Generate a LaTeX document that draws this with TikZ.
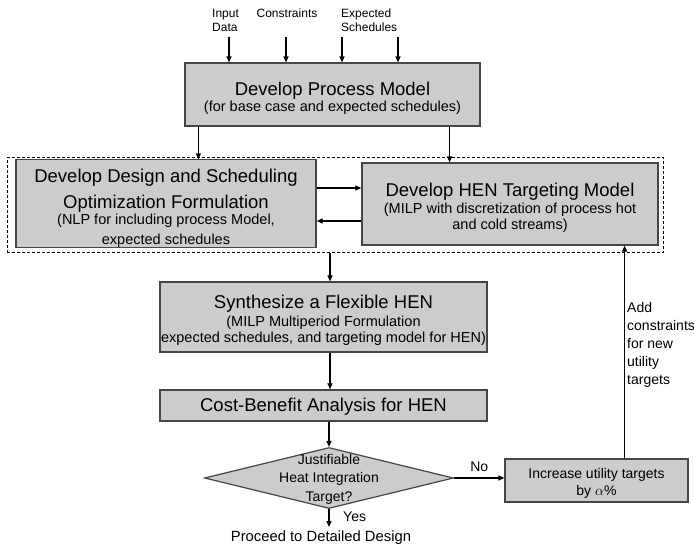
\documentclass[tikz,border=0pt]{standalone}
\usepackage{fontspec}
\setmainfont{Liberation Sans}
\usetikzlibrary{shapes.geometric,arrows.meta,fit}
\definecolor{boxfill}{RGB}{204,204,204}
\definecolor{boxline}{RGB}{70,70,70}
\newcommand\hdfont{\fontsize{18.5}{18.5}\selectfont}
\newcommand\sbfont{\fontsize{14.5}{16}\selectfont}
\newcommand\lbfont{\fontsize{12}{14}\selectfont}
\newcommand\mdfont{\fontsize{14}{17.8}\selectfont}
\newcommand\sdn[1]{\rule{0pt}{#1pt}}
\begin{document}
\begin{tikzpicture}[x=1pt,y=-1pt,
  box/.style={draw=boxline, line width=1.2pt, fill=boxfill, align=center, inner sep=0pt, font=\sbfont},
  arr/.style={draw=black, line width=1.1pt, -{Triangle[length=6pt,width=5pt]}},
  lbl/.style={font=\lbfont, inner sep=0pt},
  txt/.style={font=\mdfont, inner sep=0pt},
]
\useasboundingbox (0,0) rectangle (694,552);

% top inputs
\node[lbl, anchor=north west, align=left] (tin) at (212,9) {Input\\Data};
\node[lbl, anchor=north] (tcon) at (287,9) {Constraints};
\node[lbl, anchor=north west, align=left] (texp) at (341,9) {Expected\\Schedules};
\coordinate (a1) at (229,37);
\coordinate (a2) at (286,37);
\coordinate (a3) at (342,37);
\coordinate (a4) at (398,37);

% process model
\node[box, minimum width=295pt, minimum height=63pt] (pm) at (332.5,94.5)
  {{\hdfont\sdn{21.6}Develop Process Model}\\(for base case and expected schedules)};
\foreach \c in {a1,a2,a3,a4} \draw[arr] (\c) -- (\c |- pm.north);

% two boxes in dashed group
\node[box, minimum width=300pt, minimum height=83pt] (ldb) at (166,203.5)
  {{\hdfont\sdn{23}Develop Design and Scheduling}\\[7pt]{\hdfont Optimization Formulation}\\(NLP for including process Model,\\[4pt]expected schedules};
\node[box, minimum width=296pt, minimum height=82pt] (rdb) at (510,204)
  {{\hdfont\sdn{21.6}Develop HEN Targeting Model}\\[1pt](MILP with discretization of process hot\\and cold streams)};
\coordinate (g1) at ([xshift=-3pt]ldb.south west);
\node[draw, dashed, dash pattern=on 3pt off 2pt, line width=0.8pt, fit=(g1)(rdb.north east), inner xsep=5pt, inner ysep=5pt] (grp) {};

\coordinate (p1) at ([xshift=14pt]pm.south west);
\coordinate (p2) at ([xshift=-31pt]pm.south east);
\draw[arr] (p1) -- (p1 |- ldb.north);
\draw[arr] (p2) -- (p2 |- rdb.north);
\draw[arr] (ldb.east |- 0,188) -- (rdb.west |- 0,188);
\draw[arr] (rdb.west |- 0,221) -- (ldb.east |- 0,221);

% synthesize
\node[box, minimum width=327pt, minimum height=70pt] (syn) at (323.5,317)
  {{\hdfont\sdn{19.6}Synthesize a Flexible HEN}\\[2pt](MILP Multiperiod Formulation\\expected schedules, and targeting model for HEN)};
\node[box, minimum width=327pt, minimum height=31pt] (cba) at (323.5,405.5)
  {{\hdfont\sdn{15.6}Cost-Benefit Analysis for HEN}};
\draw[arr] (grp.south -| 330,0) -- (syn.north -| 330,0);
\draw[arr] (syn.south -| 330,0) -- (cba.north -| 330,0);

% decision
\node[diamond, aspect=4.08, draw=boxline, line width=1.2pt, fill=boxfill, minimum width=249pt, minimum height=61pt, inner sep=0pt] (dia) at (329,478) {};
\node[txt, align=center, font=\fontsize{14}{18.5}\selectfont] (diat) at ([yshift=-1pt]dia.center) {Justifiable\\Heat Integration\\Target?};
\draw[arr] (cba.south -| dia.north) -- (dia.north);

\node[txt, font=\fontsize{14.8}{17}\selectfont] (proc) at (321,538) {Proceed to Detailed Design};
\draw[arr] (dia.south) -- (dia.south |- 0,527);
\node[txt, anchor=west] (yes) at (343,517) {Yes};

% increase
\node[box, font=\mdfont, minimum width=183pt, minimum height=43pt] (inc) at (596.5,480.5)
  {\sdn{15.3}Increase utility targets\\[-1pt]by $\alpha$\%};
\draw[arr] (dia.east) -- node[txt, above=6pt] (no) {No} (dia.east -| inc.west);

\coordinate (q1) at ([xshift=-64pt]inc.north east);
\draw[arr] (q1) -- (q1 |- rdb.south);
\node[txt, anchor=north west, align=left] (add) at (627,302.5) {Add\\constraints\\for new\\utility\\targets};
\end{tikzpicture}
\end{document}
